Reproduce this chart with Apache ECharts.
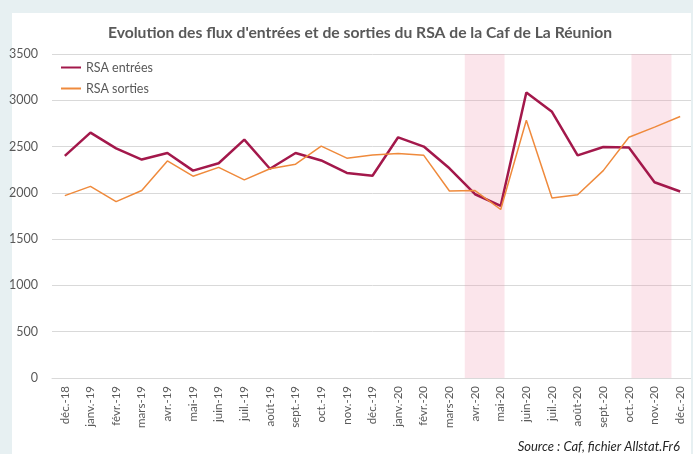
<!DOCTYPE html>
<html>
<head>
<meta charset="utf-8">
<script src="https://cdn.jsdelivr.net/npm/echarts@6/dist/echarts.min.js"></script>
<style>
html,body{margin:0;padding:0;background:#e7f0f2;}
#c{width:693px;height:454px;}
</style>
</head>
<body>
<div id="c"></div>
<script>
const categories = ["déc.-18","janv.-19","févr.-19","mars-19","avr.-19","mai-19","juin-19","juil.-19","août-19","sept.-19","oct.-19","nov.-19","déc.-19","janv.-20","févr.-20","mars-20","avr.-20","mai-20","juin-20","juil.-20","août-20","sept.-20","oct.-20","nov.-20","déc.-20"];
const entrees = [2400,2650,2480,2360,2430,2240,2320,2575,2260,2430,2350,2215,2185,2600,2500,2265,1985,1860,3085,2875,2405,2495,2490,2115,2015];
const sorties = [1970,2070,1905,2025,2345,2180,2275,2140,2260,2310,2505,2375,2410,2425,2405,2020,2025,1820,2785,1945,1980,2240,2600,2710,2825];
const shadedPeriods = [[15.6,17.15],[22.1,23.66]];
const yTicks = {min:0,max:3500,interval:500};

const chart = echarts.init(document.getElementById('c'));
const txt = '#595959';
const font = 'Lato, "Open Sans", sans-serif';
chart.setOption({
  backgroundColor:'#e7f0f2',
  animation:false,
  graphic:[
    {type:'rect',shape:{x:12,y:13,width:679,height:460},style:{fill:'#ffffff'},z:-10,silent:true},
    {type:'rect',shape:{x:691,y:0,width:10,height:454},style:{fill:'#e7f0f2'},z:100,silent:true},
    {type:'text',right:13,bottom:1,style:{text:'Source : Caf, fichier Allstat.Fr6',fill:'#262626',font:'italic 13px '+font},z:50}
  ],
  title:{text:"Evolution des flux d'entrées et de sorties du RSA de la Caf de La Réunion",left:355,textAlign:'center',top:20,
    textStyle:{color:txt,fontSize:15.7,fontWeight:'bold',fontFamily:font}},
  legend:{orient:'vertical',left:55,top:56,itemWidth:20,itemHeight:10,itemGap:8,
    itemStyle:{opacity:0},
    textStyle:{color:txt,fontSize:12.5,fontFamily:font},
    data:['RSA entrées','RSA sorties']},
  grid:{left:52,right:-2,top:54,bottom:76},
  xAxis:[{type:'category',data:categories,boundaryGap:true,
    axisLine:{lineStyle:{color:'#d9d9d9'}},axisTick:{show:false},
    axisLabel:{rotate:90,color:txt,fontSize:11.5,fontFamily:font,margin:8,interval:0}},
    {type:'value',min:-0.5,max:categories.length-0.5,show:false}],
  yAxis:{type:'value',min:yTicks.min,max:yTicks.max,interval:yTicks.interval,
    axisLine:{show:false},axisTick:{show:false},
    axisLabel:{color:txt,fontSize:12.5,fontFamily:font,margin:14,formatter:v=>String(v)},
    splitLine:{lineStyle:{color:'#d9d9d9',width:1}}},
  series:[
    {name:'RSA entrées',type:'line',data:entrees,symbol:'none',color:'#a3184b',lineStyle:{width:2.5,color:'#a3184b'},z:3},
    {name:'RSA sorties',type:'line',data:sorties,symbol:'none',color:'#ef8a3c',lineStyle:{width:1.5,color:'#ef8a3c'},z:3},
    {name:'shade',type:'line',xAxisIndex:1,data:[],z:10,
      markArea:{silent:true,itemStyle:{color:'rgba(240,150,175,0.25)'},
        data:shadedPeriods.map(p=>[{xAxis:p[0]},{xAxis:p[1]}])}}
  ]
});
</script>
</body>
</html>
